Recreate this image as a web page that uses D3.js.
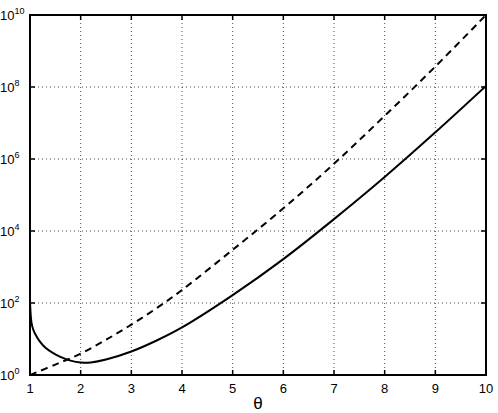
<!DOCTYPE html>
<html>
<head>
<meta charset="utf-8">
<script src="https://cdn.jsdelivr.net/npm/d3@7"></script>
<style>
  body { margin: 0; background: #fff; }
  text { font-family: "Liberation Sans", Arial, sans-serif; fill: #000; }
  .grid line { stroke: #000; stroke-width: 1; stroke-dasharray: 1,3; opacity: 0.7; }
</style>
</head>
<body>
<script>
var width = 498,
    height = 413;
var margin = {top: 15, right: 12, bottom: 38, left: 30};

// x ticks and y ticks (decades)
var xTicks = [1, 2, 3, 4, 5, 6, 7, 8, 9, 10];
var yExp = [0, 2, 4, 6, 8, 10];

// solid curve
var solidTheta = [1.0, 1.01, 1.03, 1.06, 1.1, 1.2, 1.3, 1.45, 1.6, 1.8, 2.0, 2.2, 2.5, 3, 3.5, 4, 5, 6, 7, 8, 9, 10];
var solidVal = [112, 56, 28, 19, 14, 8.3, 5.8, 4.1, 3.2, 2.51, 2.21, 2.24, 2.7, 4.5, 9.1, 21, 166, 1660, 2.14e4, 3.16e5, 5.5e6, 1.07e8];

// dashed curve
var dashTheta = [1, 1.5, 2, 2.5, 3, 3.5, 4, 5, 6, 7, 8, 9, 10];
var dashVal = [1, 1.95, 3.9, 9.5, 25, 72, 230, 3.0e3, 4.27e4, 7.4e5, 1.58e7, 3.7e8, 1e10];

var svg = d3.select("body").append("svg")
    .attr("width", width)
    .attr("height", height);

var x = d3.scaleLinear().domain([1, 10]).range([margin.left, width - margin.right]);
var y = d3.scaleLog().domain([1, 1e10]).range([height - margin.bottom, margin.top]);

var x0 = x.range()[0], x1 = x.range()[1], y0 = y.range()[0], y1 = y.range()[1];

// grid
var grid = svg.append("g").attr("class", "grid");
grid.selectAll(".gx")
    .data(xTicks.slice(1, -1)).enter()
    .append("line")
    .attr("x1", d => x(d)).attr("x2", d => x(d))
    .attr("y1", y1).attr("y2", y0);
grid.selectAll(".gy")
    .data(yExp.slice(1, -1)).enter()
    .append("line")
    .attr("x1", x0).attr("x2", x1)
    .attr("y1", d => y(Math.pow(10, d))).attr("y2", d => y(Math.pow(10, d)));

// curves
var clip = svg.append("clipPath").attr("id", "clip")
    .append("rect").attr("x", x0).attr("y", y1).attr("width", x1 - x0).attr("height", y0 - y1);

var line = d3.line()
    .x(d => x(d[0]))
    .y(d => y(d[1]))
    .curve(d3.curveCatmullRom.alpha(0.5));

svg.append("path")
    .datum(d3.zip(dashTheta, dashVal))
    .attr("clip-path", "url(#clip)")
    .attr("fill", "none")
    .attr("stroke", "#000")
    .attr("stroke-width", 2)
    .attr("stroke-dasharray", "7,5")
    .attr("d", line);

svg.append("path")
    .datum(d3.zip(solidTheta, solidVal))
    .attr("clip-path", "url(#clip)")
    .attr("fill", "none")
    .attr("stroke", "#000")
    .attr("stroke-width", 2)
    .attr("d", line);

// ticks on all four sides (inward)
var tk = 5;
var ticks = svg.append("g").attr("stroke", "#000").attr("stroke-width", 1.5);
xTicks.forEach(function (d) {
  ticks.append("line").attr("x1", x(d)).attr("x2", x(d)).attr("y1", y0).attr("y2", y0 - tk);
  ticks.append("line").attr("x1", x(d)).attr("x2", x(d)).attr("y1", y1).attr("y2", y1 + tk);
});
yExp.forEach(function (d) {
  var yy = y(Math.pow(10, d));
  ticks.append("line").attr("x1", x0).attr("x2", x0 + tk).attr("y1", yy).attr("y2", yy);
  ticks.append("line").attr("x1", x1).attr("x2", x1 - tk).attr("y1", yy).attr("y2", yy);
});

// box
svg.append("rect")
    .attr("x", x0).attr("y", y1)
    .attr("width", x1 - x0).attr("height", y0 - y1)
    .attr("fill", "none")
    .attr("stroke", "#000")
    .attr("stroke-width", 2);

// x tick labels
svg.selectAll(".xl")
    .data(xTicks).enter()
    .append("text")
    .attr("x", d => x(d))
    .attr("y", y0 + 18)
    .attr("text-anchor", "middle")
    .attr("font-size", 13)
    .text(d => d);

// y tick labels 10^n
var yl = svg.selectAll(".yl")
    .data(yExp).enter()
    .append("text")
    .attr("x", 0)
    .attr("y", d => y(Math.pow(10, d)) + 5)
    .attr("font-size", 13);
yl.append("tspan").text("10");
yl.append("tspan")
    .attr("dy", -6)
    .attr("font-size", 9)
    .text(d => d);

// x axis title
svg.append("text")
    .attr("x", (x0 + x1) / 2)
    .attr("y", height - 4)
    .attr("text-anchor", "middle")
    .attr("font-size", 17)
    .text("θ");
</script>
</body>
</html>
